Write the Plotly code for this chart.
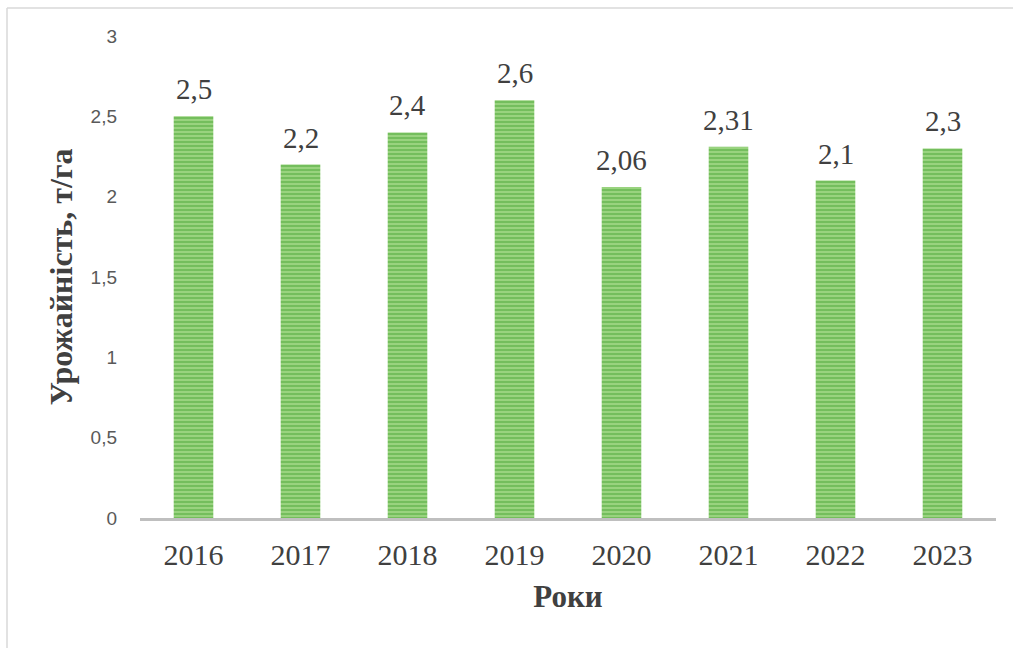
import plotly.graph_objects as go

years = ["2016", "2017", "2018", "2019", "2020", "2021", "2022", "2023"]
yields = [2.5, 2.2, 2.4, 2.6, 2.06, 2.31, 2.1, 2.3]
y_ticks = [0, 0.5, 1, 1.5, 2, 2.5, 3]

labels = [f"{v:g}".replace(".", ",") for v in yields]

W, H = 1013, 648
L, R, T, B = 140, 17, 36, 130
pw, ph = W - L - R, H - T - B


def px_x(x):
    return (x - L) / pw


def px_y(y):
    return (H - B - y) / ph


fig = go.Figure(
    go.Bar(
        x=years,
        y=yields,
        marker=dict(
            color="#A8DA8D",
            line=dict(width=0),
            pattern=dict(shape="-", fgcolor="#40A22E", size=4, solidity=0.65),
        ),
        hoverinfo="skip",
    )
)

# value labels above each bar (category index as x position)
for i, (v, lab) in enumerate(zip(yields, labels)):
    fig.add_annotation(
        x=i, y=v, text=lab, showarrow=False,
        yanchor="bottom", yshift=9,
        font=dict(family="Liberation Serif", size=29, color="#404040"),
    )

fig.update_layout(
    width=W,
    height=H,
    margin=dict(l=L, r=R, t=T, b=B),
    paper_bgcolor="white",
    plot_bgcolor="white",
    separators=", ",
    bargap=0.63,
    showlegend=False,
    shapes=[
        # outer frame (top and left edges)
        dict(type="line", xref="paper", yref="paper",
             x0=px_x(7), x1=px_x(W + 5), y0=px_y(8), y1=px_y(8),
             line=dict(color="#D9D9D9", width=1.5)),
        dict(type="line", xref="paper", yref="paper",
             x0=px_x(7), x1=px_x(7), y0=px_y(8), y1=px_y(H + 5),
             line=dict(color="#D9D9D9", width=1.5)),
    ],
)

fig.update_xaxes(
    type="category",
    range=[-0.5, len(years) - 0.5],
    showgrid=False,
    showline=True,
    linecolor="#BFBFBF",
    linewidth=3,
    ticks="",
    ticklabelstandoff=8,
    tickfont=dict(family="Liberation Serif", size=30, color="#404040"),
    title=dict(text="<b>Роки</b>",
               font=dict(family="Liberation Serif", size=31, color="#404040"),
               standoff=16),
)

fig.update_yaxes(
    range=[0, 3],
    tickvals=y_ticks,
    showgrid=False,
    zeroline=False,
    showline=False,
    ticks="",
    ticklabelstandoff=22,
    tickfont=dict(family="Liberation Sans", size=19, color="#595959"),
    title=dict(text="<b>Урожайність, т/га</b>",
               font=dict(family="Liberation Serif", size=32, color="#404040"),
               standoff=8),
)

fig.write_html("out.html")
